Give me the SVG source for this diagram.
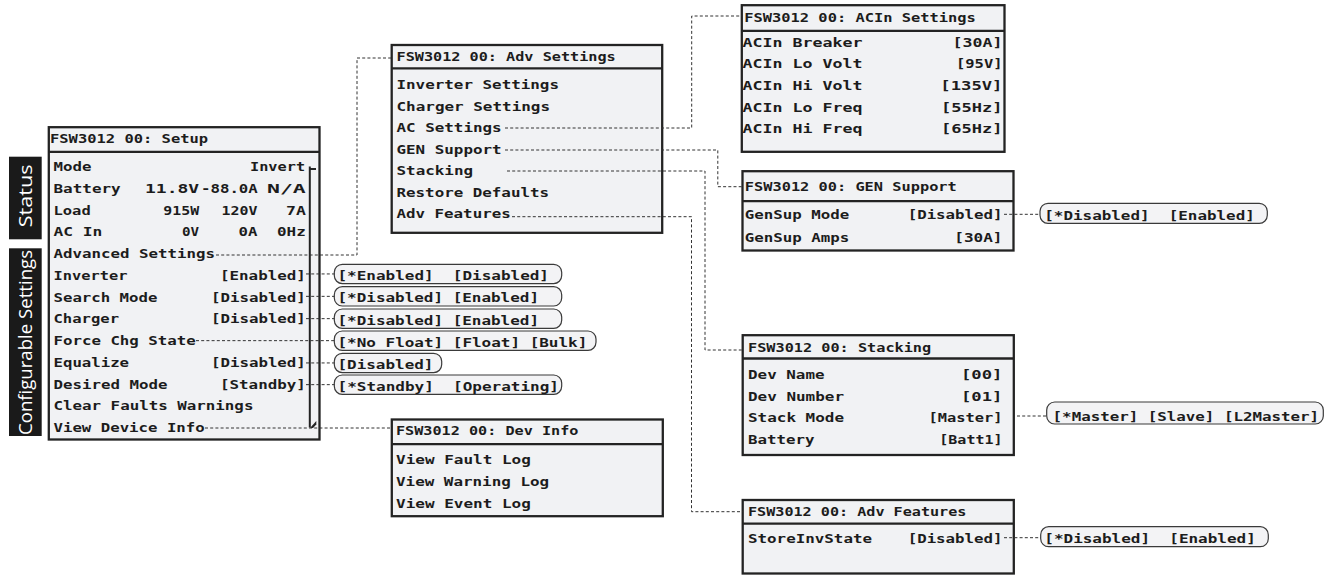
<svg xmlns="http://www.w3.org/2000/svg" width="1326" height="575" viewBox="0 0 1326 575">
<style>
.panel{fill:#f1f2f4;stroke:#232323;stroke-width:2.3}
.div{stroke:#232323;stroke-width:2.3;fill:none}
.t{font-family:"DejaVu Sans Mono","Liberation Mono",monospace;font-weight:bold;font-size:12px;fill:#1c1c1c}
.opt{fill:#f3f3f5;stroke:#3a3a3a;stroke-width:1.2}
.conn{fill:none;stroke:#333333;stroke-width:1;stroke-dasharray:3 2.2}
.lab{fill:#1a1a1a}
.labt{font-family:"Open Sans","Noto Sans",sans-serif;font-size:18px;fill:#ffffff}
.sb{stroke:#232323;stroke-width:2;fill:none}
</style>

<g id="label-status">
<rect class="lab" x="9" y="156.7" width="32.7" height="82.6"/>
<text class="labt" transform="translate(32.3,227.3) rotate(-90)" textLength="63" lengthAdjust="spacingAndGlyphs">Status</text>
</g>
<g id="label-configurable">
<rect class="lab" x="9" y="248.3" width="32.7" height="187.7"/>
<text class="labt" transform="translate(32.3,435) rotate(-90)" textLength="185" lengthAdjust="spacingAndGlyphs">Configurable Settings</text>
</g>

<g id="setup">
<rect class="panel" x="48.8" y="127.2" width="270.7" height="312.3"/>
<line class="div" x1="48.8" y1="151.8" x2="319.5" y2="151.8"/>
<text class="t" x="50" y="143" textLength="158.1" lengthAdjust="spacingAndGlyphs">FSW3012 00: Setup</text>
<text class="t" x="53.5" y="171" textLength="37.9" lengthAdjust="spacingAndGlyphs">Mode</text>
<text class="t" x="250" y="171" textLength="55.1" lengthAdjust="spacingAndGlyphs">Invert</text>
<text class="t" x="53.5" y="192.75" textLength="67.2" lengthAdjust="spacingAndGlyphs">Battery</text>
<text class="t" x="145" y="192.75" textLength="54.1" lengthAdjust="spacingAndGlyphs">11.8V</text>
<text class="t" x="201" y="192.75" textLength="56.8" lengthAdjust="spacingAndGlyphs">-88.0A</text>
<text class="t" x="267" y="192.75" textLength="38.8" lengthAdjust="spacingAndGlyphs">N/A</text>
<text class="t" x="53.5" y="214.5" textLength="37.2" lengthAdjust="spacingAndGlyphs">Load</text>
<text class="t" x="163.3" y="214.5" textLength="35.8" lengthAdjust="spacingAndGlyphs">915W</text>
<text class="t" x="221.5" y="214.5" textLength="35.9" lengthAdjust="spacingAndGlyphs">120V</text>
<text class="t" x="286" y="214.5" textLength="19.8" lengthAdjust="spacingAndGlyphs">7A</text>
<text class="t" x="53.5" y="236.25" textLength="48.9" lengthAdjust="spacingAndGlyphs">AC In</text>
<text class="t" x="182" y="236.25" textLength="17.1" lengthAdjust="spacingAndGlyphs">0V</text>
<text class="t" x="238.5" y="236.25" textLength="18.9" lengthAdjust="spacingAndGlyphs">0A</text>
<text class="t" x="277" y="236.25" textLength="28.8" lengthAdjust="spacingAndGlyphs">0Hz</text>
<text class="t" x="53.5" y="258" textLength="161.5" lengthAdjust="spacingAndGlyphs">Advanced Settings</text>
<text class="t" x="53.5" y="279.75" textLength="73.9" lengthAdjust="spacingAndGlyphs">Inverter</text>
<text class="t" x="220" y="279.75" textLength="85.8" lengthAdjust="spacingAndGlyphs">[Enabled]</text>
<text class="t" x="53.5" y="301.5" textLength="103.9" lengthAdjust="spacingAndGlyphs">Search Mode</text>
<text class="t" x="211" y="301.5" textLength="94.8" lengthAdjust="spacingAndGlyphs">[Disabled]</text>
<text class="t" x="53.5" y="323.25" textLength="65.5" lengthAdjust="spacingAndGlyphs">Charger</text>
<text class="t" x="211" y="323.25" textLength="94.8" lengthAdjust="spacingAndGlyphs">[Disabled]</text>
<text class="t" x="53.5" y="345" textLength="142.2" lengthAdjust="spacingAndGlyphs">Force Chg State</text>
<text class="t" x="53.5" y="366.75" textLength="75.5" lengthAdjust="spacingAndGlyphs">Equalize</text>
<text class="t" x="211" y="366.75" textLength="94.8" lengthAdjust="spacingAndGlyphs">[Disabled]</text>
<text class="t" x="53.5" y="388.5" textLength="113.9" lengthAdjust="spacingAndGlyphs">Desired Mode</text>
<text class="t" x="220" y="388.5" textLength="85.8" lengthAdjust="spacingAndGlyphs">[Standby]</text>
<text class="t" x="53.5" y="410.25" textLength="199.9" lengthAdjust="spacingAndGlyphs">Clear Faults Warnings</text>
<text class="t" x="53.5" y="432" textLength="151.2" lengthAdjust="spacingAndGlyphs">View Device Info</text>
<line class="sb" x1="309.8" y1="166.5" x2="309.8" y2="427.5"/>
<line class="sb" x1="309.8" y1="169" x2="316" y2="169" stroke-width="1.8"/>
<polygon points="310,428 316.3,421 316.3,424.5 313,428" fill="#232323"/>
</g>

<g id="opt-inverter">
<rect class="opt" x="334.3" y="264.3" width="227.4" height="19.3" rx="8"/>
<text class="t" x="337.5" y="280" textLength="211.5" lengthAdjust="spacingAndGlyphs" xml:space="preserve">[*Enabled]  [Disabled]</text>
</g>
<g id="opt-search">
<rect class="opt" x="334.3" y="286.7" width="227.4" height="19.3" rx="8"/>
<text class="t" x="337.5" y="302.4" textLength="201.5" lengthAdjust="spacingAndGlyphs" xml:space="preserve">[*Disabled] [Enabled]</text>
</g>
<g id="opt-charger">
<rect class="opt" x="334.3" y="309" width="227.4" height="19.3" rx="8"/>
<text class="t" x="337.5" y="324.7" textLength="201.5" lengthAdjust="spacingAndGlyphs" xml:space="preserve">[*Disabled] [Enabled]</text>
</g>
<g id="opt-force">
<rect class="opt" x="334.3" y="331" width="261.7" height="19.3" rx="8"/>
<text class="t" x="337.5" y="346.7" textLength="249.8" lengthAdjust="spacingAndGlyphs" xml:space="preserve">[*No Float] [Float] [Bulk]</text>
</g>
<g id="opt-equalize">
<rect class="opt" x="334.3" y="353.3" width="107.4" height="19.3" rx="8"/>
<text class="t" x="337.5" y="369" textLength="95.9" lengthAdjust="spacingAndGlyphs">[Disabled]</text>
</g>
<g id="opt-desired">
<rect class="opt" x="334.3" y="375" width="227.4" height="19.3" rx="8"/>
<text class="t" x="337.5" y="390.7" textLength="221.5" lengthAdjust="spacingAndGlyphs" xml:space="preserve">[*Standby]  [Operating]</text>
</g>

<g id="adv-settings">
<rect class="panel" x="391.7" y="45" width="270.5" height="187.8"/>
<line class="div" x1="391.7" y1="68.3" x2="662.2" y2="68.3"/>
<text class="t" x="396.5" y="61" textLength="219.2" lengthAdjust="spacingAndGlyphs">FSW3012 00: Adv Settings</text>
<text class="t" x="396.5" y="89" textLength="162.5" lengthAdjust="spacingAndGlyphs">Inverter Settings</text>
<text class="t" x="396.5" y="110.6" textLength="153.5" lengthAdjust="spacingAndGlyphs">Charger Settings</text>
<text class="t" x="396.5" y="132.1" textLength="105.2" lengthAdjust="spacingAndGlyphs">AC Settings</text>
<text class="t" x="396.5" y="153.7" textLength="105.2" lengthAdjust="spacingAndGlyphs">GEN Support</text>
<text class="t" x="396.5" y="175.2" textLength="76.5" lengthAdjust="spacingAndGlyphs">Stacking</text>
<text class="t" x="396.5" y="196.8" textLength="152.5" lengthAdjust="spacingAndGlyphs">Restore Defaults</text>
<text class="t" x="396.5" y="218.3" textLength="114.2" lengthAdjust="spacingAndGlyphs">Adv Features</text>
</g>

<g id="acin-settings">
<rect class="panel" x="741.8" y="5.2" width="262.7" height="146.6"/>
<line class="div" x1="741.8" y1="30.8" x2="1004.5" y2="30.8"/>
<text class="t" x="744.3" y="21.7" textLength="231.5" lengthAdjust="spacingAndGlyphs">FSW3012 00: ACIn Settings</text>
<text class="t" x="742.6" y="46.7" textLength="119.9" lengthAdjust="spacingAndGlyphs">ACIn Breaker</text>
<text class="t" x="952.5" y="46.7" textLength="49.9" lengthAdjust="spacingAndGlyphs">[30A]</text>
<text class="t" x="742.6" y="68.3" textLength="119.9" lengthAdjust="spacingAndGlyphs">ACIn Lo Volt</text>
<text class="t" x="956" y="68.3" textLength="46.5" lengthAdjust="spacingAndGlyphs">[95V]</text>
<text class="t" x="742.6" y="90" textLength="119.9" lengthAdjust="spacingAndGlyphs">ACIn Hi Volt</text>
<text class="t" x="940.3" y="90" textLength="62.2" lengthAdjust="spacingAndGlyphs">[135V]</text>
<text class="t" x="742.6" y="111.7" textLength="119.9" lengthAdjust="spacingAndGlyphs">ACIn Lo Freq</text>
<text class="t" x="941" y="111.7" textLength="61.5" lengthAdjust="spacingAndGlyphs">[55Hz]</text>
<text class="t" x="742.6" y="133.3" textLength="119.9" lengthAdjust="spacingAndGlyphs">ACIn Hi Freq</text>
<text class="t" x="941" y="133.3" textLength="61.5" lengthAdjust="spacingAndGlyphs">[65Hz]</text>
</g>

<g id="gen-support">
<rect class="panel" x="742.5" y="171.2" width="271" height="79.3"/>
<line class="div" x1="742.5" y1="201.2" x2="1013.5" y2="201.2"/>
<text class="t" x="744.8" y="190.7" textLength="212" lengthAdjust="spacingAndGlyphs">FSW3012 00: GEN Support</text>
<text class="t" x="744.8" y="219.3" textLength="104.5" lengthAdjust="spacingAndGlyphs">GenSup Mode</text>
<text class="t" x="907.7" y="219.3" textLength="94.8" lengthAdjust="spacingAndGlyphs">[Disabled]</text>
<text class="t" x="744.8" y="241.7" textLength="104.5" lengthAdjust="spacingAndGlyphs">GenSup Amps</text>
<text class="t" x="954.3" y="241.7" textLength="48.2" lengthAdjust="spacingAndGlyphs">[30A]</text>
</g>
<g id="opt-gensup">
<rect class="opt" x="1040" y="203.3" width="227.3" height="20" rx="8"/>
<text class="t" x="1044.3" y="219.5" textLength="210.5" lengthAdjust="spacingAndGlyphs" xml:space="preserve">[*Disabled]  [Enabled]</text>
</g>

<g id="stacking">
<rect class="panel" x="742.7" y="335.2" width="271.1" height="119.8"/>
<line class="div" x1="742.7" y1="358.5" x2="1013.8" y2="358.5"/>
<text class="t" x="748" y="351.7" textLength="183.2" lengthAdjust="spacingAndGlyphs">FSW3012 00: Stacking</text>
<text class="t" x="748" y="379" textLength="76.5" lengthAdjust="spacingAndGlyphs">Dev Name</text>
<text class="t" x="961" y="379" textLength="41.5" lengthAdjust="spacingAndGlyphs">[00]</text>
<text class="t" x="748" y="400.7" textLength="96" lengthAdjust="spacingAndGlyphs">Dev Number</text>
<text class="t" x="961" y="400.7" textLength="41.5" lengthAdjust="spacingAndGlyphs">[01]</text>
<text class="t" x="748" y="422.4" textLength="96" lengthAdjust="spacingAndGlyphs">Stack Mode</text>
<text class="t" x="928.6" y="422.4" textLength="73.9" lengthAdjust="spacingAndGlyphs">[Master]</text>
<text class="t" x="748" y="444" textLength="66.5" lengthAdjust="spacingAndGlyphs">Battery</text>
<text class="t" x="939.3" y="444" textLength="63.2" lengthAdjust="spacingAndGlyphs">[Batt1]</text>
</g>
<g id="opt-stackmode">
<rect class="opt" x="1046.7" y="402" width="276.6" height="22" rx="8"/>
<text class="t" x="1052.6" y="420.7" textLength="266.5" lengthAdjust="spacingAndGlyphs">[*Master] [Slave] [L2Master]</text>
</g>

<g id="adv-features">
<rect class="panel" x="742.7" y="500" width="271.1" height="73.5"/>
<line class="div" x1="742.7" y1="523.7" x2="1013.8" y2="523.7"/>
<text class="t" x="748" y="516" textLength="218.4" lengthAdjust="spacingAndGlyphs">FSW3012 00: Adv Features</text>
<text class="t" x="748" y="542.5" textLength="124" lengthAdjust="spacingAndGlyphs">StoreInvState</text>
<text class="t" x="907.7" y="542.5" textLength="94.8" lengthAdjust="spacingAndGlyphs">[Disabled]</text>
</g>
<g id="opt-storeinv">
<rect class="opt" x="1040.7" y="526.7" width="227.6" height="20" rx="8"/>
<text class="t" x="1044.3" y="542.7" textLength="211.5" lengthAdjust="spacingAndGlyphs" xml:space="preserve">[*Disabled]  [Enabled]</text>
</g>

<g id="dev-info">
<rect class="panel" x="391.8" y="419.5" width="271" height="96.7"/>
<line class="div" x1="391.8" y1="444.2" x2="662.8" y2="444.2"/>
<text class="t" x="396" y="435" textLength="182.5" lengthAdjust="spacingAndGlyphs">FSW3012 00: Dev Info</text>
<text class="t" x="396" y="464.3" textLength="134.8" lengthAdjust="spacingAndGlyphs">View Fault Log</text>
<text class="t" x="396" y="486" textLength="153.1" lengthAdjust="spacingAndGlyphs">View Warning Log</text>
<text class="t" x="396" y="507.7" textLength="134.8" lengthAdjust="spacingAndGlyphs">View Event Log</text>
</g>

<g id="connectors">
<path class="conn" d="M216,255 H357 V58 H391.7"/>
<path class="conn" d="M306,273.95 H334.3"/>
<path class="conn" d="M306,296.35 H334.3"/>
<path class="conn" d="M306,318.65 H334.3"/>
<path class="conn" d="M196,340.65 H334.3"/>
<path class="conn" d="M306,362.95 H334.3"/>
<path class="conn" d="M306,384.65 H334.3"/>
<path class="conn" d="M205,428 H391.8"/>
<path class="conn" d="M505,128 H691.7 V16 H741.8"/>
<path class="conn" d="M505,150 H717.8 V186.7 H742.5"/>
<path class="conn" d="M507,171 H705 V350 H742.7"/>
<path class="conn" d="M512,216.7 H691.5 V511.7 H742.7"/>
<path class="conn" d="M1004,214.3 H1040"/>
<path class="conn" d="M1017,416 H1046.7"/>
<path class="conn" d="M1004,537.7 H1040.7"/>
</g>
</svg>
